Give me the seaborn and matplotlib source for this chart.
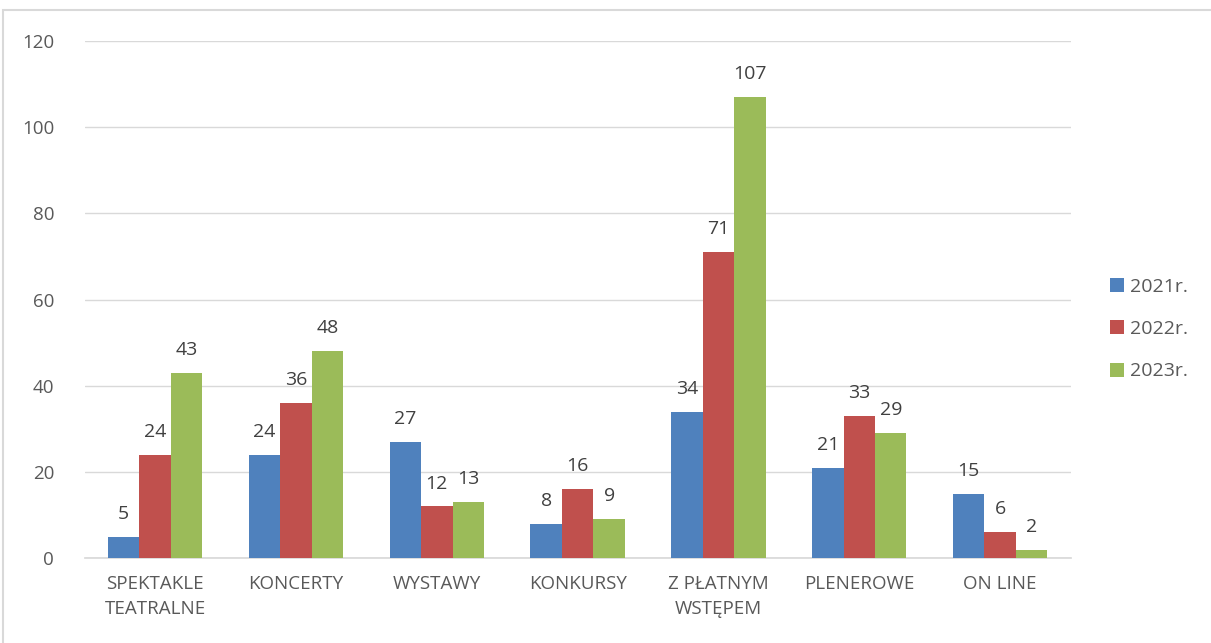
import pandas as pd
import seaborn as sns
import matplotlib.pyplot as plt
from matplotlib.patches import Rectangle

# Values
categories = ["SPEKTAKLE\nTEATRALNE", "KONCERTY", "WYSTAWY", "KONKURSY",
              "Z PŁATNYM\nWSTĘPEM", "PLENEROWE", "ON LINE"]
years = ["2021r.", "2022r.", "2023r."]
v2021 = [5, 24, 27, 8, 34, 21, 15]
v2022 = [24, 36, 12, 16, 71, 33, 6]
v2023 = [43, 48, 13, 9, 107, 29, 2]
colors = ["#4F81BD", "#C0504D", "#9BBB59"]

df = pd.DataFrame({
    "kategoria": categories * 3,
    "rok": [years[0]] * 7 + [years[1]] * 7 + [years[2]] * 7,
    "liczba": v2021 + v2022 + v2023,
})

sns.set_theme(style="white")
plt.rcParams['font.family'] = ['Open Sans', 'DejaVu Sans']
txt = "#595959"

fig = plt.figure(figsize=(12.11, 6.43), dpi=100)
ax = fig.add_axes([0.070, 0.132, 0.814, 0.804])

sns.barplot(data=df, x="kategoria", y="liczba", hue="rok", palette=colors,
            width=0.67, saturation=1, linewidth=0, ax=ax, zorder=3)

for cont in ax.containers:
    ax.bar_label(cont, padding=10, fontsize=14, color="#404040")

ax.set_ylim(0, 120)
ax.set_yticks(range(0, 121, 20))
ax.yaxis.grid(True, color="#D9D9D9", linewidth=1, zorder=0)
ax.tick_params(axis="both", labelsize=13.5, colors=txt, length=0)
ax.tick_params(axis="y", pad=22)
for lab in ax.get_xticklabels():
    lab.set_linespacing(1.55)
ax.tick_params(axis="x", pad=12)
ax.set_xlabel("")
ax.set_ylabel("")
for s in ["top", "right", "left"]:
    ax.spines[s].set_visible(False)
ax.spines["bottom"].set_color("#D9D9D9")

ax.legend(loc="center left", bbox_to_anchor=(1.022, 0.443), frameon=False,
          fontsize=14, labelcolor=txt, handlelength=0.75, handleheight=0.75,
          labelspacing=1.25, handletextpad=0.3)

# chart frame
fig.patches.append(Rectangle((3 / 1211, -0.01), 1.2, 1 - 10 / 643 + 0.01,
                             transform=fig.transFigure, fill=False,
                             edgecolor="#D9D9D9", linewidth=1.5))

fig.savefig("out.png", dpi=100)
